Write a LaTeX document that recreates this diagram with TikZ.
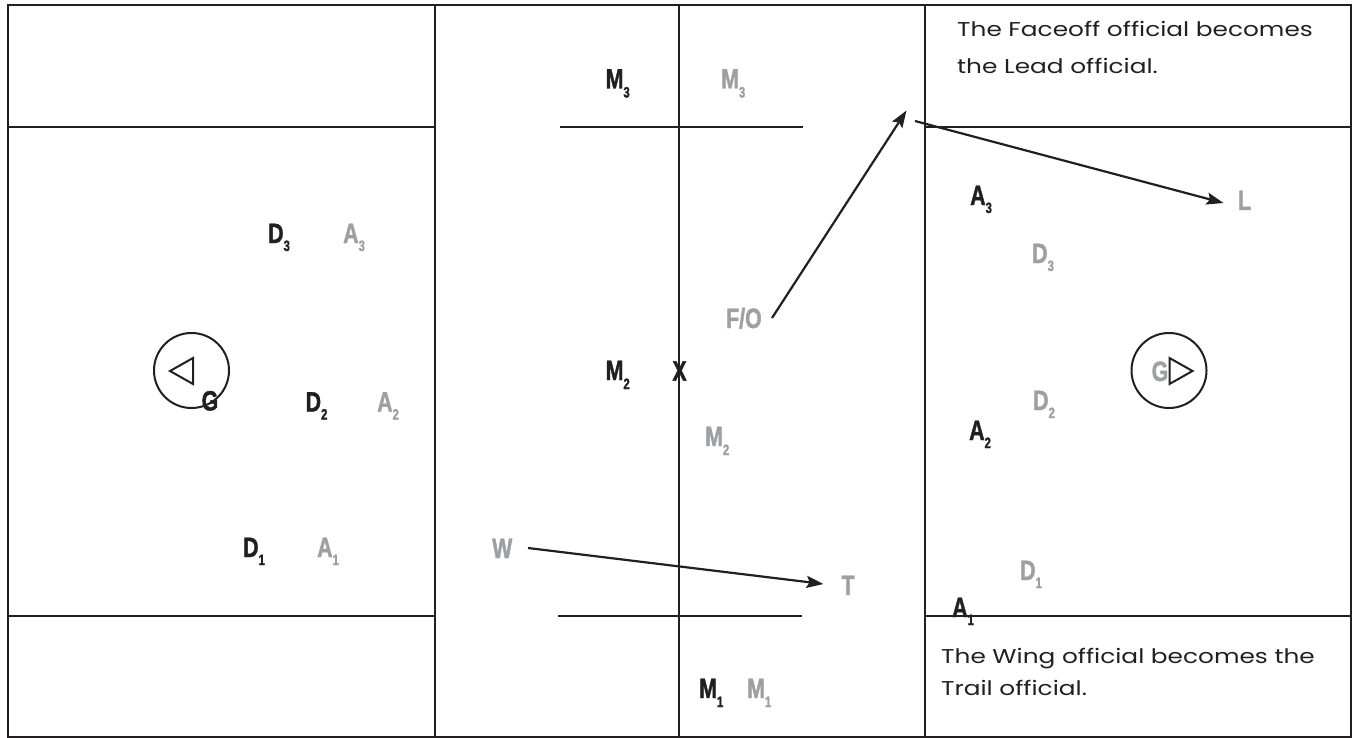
\documentclass[tikz,border=0pt]{standalone}
\usepackage{fontspec}
\usetikzlibrary{arrows.meta}
\newfontfamily\labfont[FakeStretch=0.76,FakeBold=1.4]{Liberation Sans Bold}
\newfontfamily\notefont[FakeStretch=1.24]{Poppins}
\definecolor{ink}{HTML}{231F20}
\definecolor{pale}{HTML}{9D9FA2}
\newcommand\plab[3]{{\fontsize{28}{28}\selectfont #1}\raisebox{-#3pt}{\fontsize{15}{15}\selectfont #2}}
\tikzset{
  field/.style={draw=ink, line width=2pt},
  lab/.style={anchor=base west, inner sep=0pt, font=\labfont},
  blk/.style={lab, text=ink},
  gry/.style={lab, text=pale},
  arr/.style={draw=ink, line width=2.2pt, -{Stealth[length=17pt,width=12pt,inset=3pt]}},
  note/.style={anchor=north west, inner sep=0pt, align=left, text=ink, font=\notefont\fontsize{20}{37}\selectfont},
  goal/.style={draw=ink, line width=2pt},
}
\begin{document}
\begin{tikzpicture}[x=1pt,y=-1pt]
\useasboundingbox (0,0) rectangle (1354,738);
% field lines
\draw[field] (8,5) rectangle (1351,737);
\draw[field] (435,5) -- (435,737);
\draw[field] (679,5) -- (679,737);
\draw[field] (925,5) -- (925,737);
\draw[field] (8,127) -- (435,127);
\draw[field] (925,127) -- (1351,127);
\draw[field] (8,616) -- (435,616);
\draw[field] (925,616) -- (1351,616);
\draw[field] (560,127) -- (803,127);
\draw[field] (558,616) -- (802,616);
% goals
\node[goal, circle, minimum size=75pt, inner sep=0pt] (lgoal) at (191.5,370.5) {};
\draw[goal, line join=miter] (170,371) -- (193,358) -- (193,384) -- cycle;
\node[goal, circle, minimum size=75pt, inner sep=0pt] (rgoal) at (1169,370.5) {};
\draw[goal, line join=miter] (1192.5,371) -- (1169.5,358) -- (1169.5,384) -- cycle;
% left half
\node[blk] (ld3) at (268,243) {\plab{D}{3}{8}};
\node[gry] (la3) at (343,243) {\plab{A}{3}{8}};
\node[blk] (lg)  at (201.5,410.5) {\plab{G}{}{8}};
\node[blk] (ld2) at (305.5,411.5) {\plab{D}{2}{8}};
\node[gry] (la2) at (377,411.5) {\plab{A}{2}{8}};
\node[blk] (ld1) at (243,557) {\plab{D}{1}{8}};
\node[gry] (la1) at (317,557) {\plab{A}{1}{8}};
% middle
\node[blk] (m3b) at (605.5,88.5) {\plab{M}{3}{9}};
\node[gry] (m3g) at (721,88.5) {\plab{M}{3}{9}};
\node[gry] (fo)  at (726,328) {\plab{F/O}{}{8}};
\node[blk] (m2b) at (605.5,380) {\plab{M}{2}{9}};
\node[blk, anchor=center] (x) at (679.5,371) {\fontsize{28}{28}\selectfont X};
\node[gry] (m2g) at (705,446) {\plab{M}{2}{9}};
\node[gry] (w)   at (492,558) {\plab{W}{}{8}};
\node[gry] (t)   at (841.5,595) {\plab{T}{}{8}};
\node[blk] (m1b) at (699,698) {\plab{M}{1}{9}};
\node[gry] (m1g) at (747,698) {\plab{M}{1}{9}};
% right half
\node[blk] (ra3) at (970,205) {\plab{A}{3}{8}};
\node[gry] (rl)  at (1238,210) {\plab{L}{}{8}};
\node[gry] (rd3) at (1032,263) {\plab{D}{3}{8}};
\node[gry] (rg)  at (1151.5,381) {\plab{G}{}{8}};
\node[gry] (rd2) at (1033,410) {\plab{D}{2}{8}};
\node[blk] (ra2) at (969,440) {\plab{A}{2}{8}};
\node[gry] (rd1) at (1020,580) {\plab{D}{1}{8}};
\node[blk] (ra1) at (952,617) {\plab{A}{1}{8}};
% notes
\node[note] (lead) at (957,21.5) {The Faceoff official becomes\\the Lead official.};
\node[note, font=\notefont\fontsize{20}{32}\selectfont] (trail) at (941,648) {The Wing official becomes the\\Trail official.};
% arrows
\coordinate (fostart) at (772,318);
\coordinate (fotip) at (906.5,110.5);
\coordinate (lstart) at (915,121);
\coordinate (ltip) at (1223.5,203);
\coordinate (wstart) at (528,548);
\coordinate (ttip) at (823.5,584);
\draw[arr] (fostart) -- (fotip);
\draw[arr] (lstart) -- (ltip);
\draw[arr] (wstart) -- (ttip);
\end{tikzpicture}
\end{document}
